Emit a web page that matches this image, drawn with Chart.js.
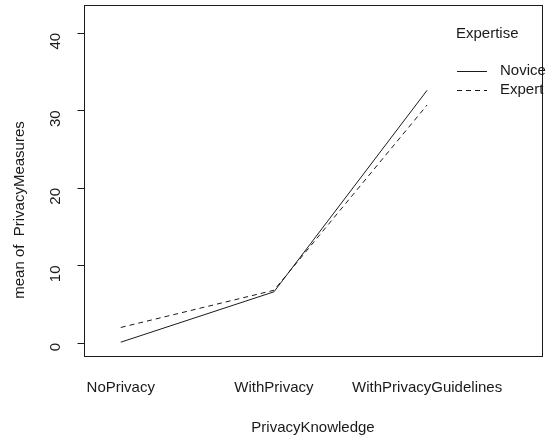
<!DOCTYPE html>
<html>
<head>
<meta charset="utf-8">
<script src="https://cdn.jsdelivr.net/npm/chart.js@4"></script>
<style>
  html, body { margin: 0; padding: 0; background: #fff; }
  #wrap { width: 548px; height: 437px; }
</style>
</head>
<body>
<div id="wrap"><canvas id="chart"></canvas></div>
<script>
const categories = ['NoPrivacy', 'WithPrivacy', 'WithPrivacyGuidelines'];
const noviceValues = [0.1, 6.6, 32.6];
const expertValues = [2.0, 6.8, 30.7];
const yTicks = [0, 10, 20, 30, 40];

const FONT = 'Liberation Sans, Arial, sans-serif';
const INK = '#1a1a1a';

function toPoints(vals) {
  return vals.map((v, i) => ({ x: i + 1, y: v }));
}

// box around the plot, y tick marks, legend and y title, drawn like base R
const rDecor = {
  id: 'rDecor',
  afterDraw(chart) {
    const { ctx, chartArea: a } = chart;
    const left = Math.round(a.left) + 0.5;
    ctx.save();
    ctx.strokeStyle = INK;
    ctx.lineWidth = 1;
    ctx.strokeRect(left, Math.round(a.top) + 0.5,
      Math.round(a.right - a.left), Math.round(a.bottom - a.top));

    // tick marks
    const ys = chart.scales.y;
    ctx.beginPath();
    yTicks.forEach((v) => {
      const py = Math.round(ys.getPixelForValue(v)) + 0.5;
      ctx.moveTo(left - 7, py);
      ctx.lineTo(left, py);
    });
    ctx.stroke();

    // legend
    ctx.fillStyle = INK;
    ctx.font = '15px ' + FONT;
    ctx.textBaseline = 'middle';
    ctx.fillText('Expertise', 456, 34);
    chart.data.datasets.forEach((ds, i) => {
      const y = 71 + i * 19;
      ctx.beginPath();
      ctx.setLineDash(ds.borderDash || []);
      ctx.moveTo(457, y + 0.5);
      ctx.lineTo(487, y + 0.5);
      ctx.stroke();
      ctx.setLineDash([]);
      ctx.fillText(ds.label, 500, y);
    });

    // y title
    ctx.translate(20, 210);
    ctx.rotate(-Math.PI / 2);
    ctx.textAlign = 'center';
    ctx.fillText('mean of  PrivacyMeasures', 0, 0);
    ctx.restore();
  }
};

new Chart(document.getElementById('chart'), {
  type: 'line',
  data: {
    datasets: [
      {
        label: 'Novice',
        data: toPoints(noviceValues),
        borderColor: INK,
        borderWidth: 1,
        pointRadius: 0,
        tension: 0,
      },
      {
        label: 'Expert',
        data: toPoints(expertValues),
        borderColor: INK,
        borderWidth: 1,
        borderDash: [5, 4],
        pointRadius: 0,
        tension: 0,
      },
    ],
  },
  options: {
    responsive: true,
    maintainAspectRatio: false,
    animation: false,
    layout: { padding: { top: 5, right: 6, left: 0, bottom: 0 } },
    plugins: { legend: { display: false }, tooltip: { enabled: false } },
    scales: {
      x: {
        type: 'linear',
        min: 0.76,
        max: 3.75,
        afterBuildTicks: (s) => { s.ticks = categories.map((c, i) => ({ value: i + 1 })); },
        afterFit: (s) => { s.height = 81; s.paddingLeft = 0; s.paddingRight = 0; },
        grid: { display: false, drawTicks: false },
        border: { display: false },
        ticks: {
          callback: (v) => categories[v - 1],
          color: INK,
          font: { family: FONT, size: 15 },
          padding: 23,
          maxRotation: 0,
          autoSkip: false,
        },
        title: {
          display: true,
          text: 'PrivacyKnowledge',
          color: INK,
          font: { family: FONT, size: 15 },
          padding: { top: 14, bottom: 0 },
        },
      },
      y: {
        min: -1.68,
        max: 43.6,
        afterBuildTicks: (s) => { s.ticks = yTicks.map((v) => ({ value: v })); },
        afterFit: (s) => { s.width = 84; s.paddingTop = 0; s.paddingBottom = 0; },
        grid: { display: false, drawTicks: false },
        border: { display: false },
        ticks: {
          color: INK,
          font: { family: FONT, size: 15 },
          padding: 28,
          minRotation: 90,
          maxRotation: 90,
        },
      },
    },
  },
  plugins: [rDecor],
});
</script>
</body>
</html>
